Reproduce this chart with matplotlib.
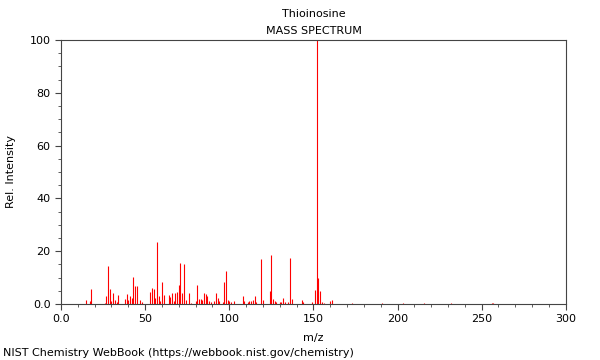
import matplotlib
matplotlib.use("Agg")
import matplotlib.pyplot as plt
from matplotlib.ticker import MultipleLocator, FuncFormatter

# peaks (m/z, relative intensity)
mz = [15, 17, 18, 26, 27, 28, 29, 30, 31, 32, 33, 34, 38, 39, 40, 41, 42,
      43, 44, 45, 47, 48, 53, 54, 55, 56, 57, 58, 59, 60, 61, 64, 65, 66,
      67, 68, 69, 70, 71, 72, 73, 74, 76, 77, 80, 81, 82, 83, 84, 85, 86,
      87, 88, 89, 91, 92, 93, 94, 96, 97, 98, 99, 100, 101, 103, 108, 109,
      111, 112, 113, 114, 115, 116, 119, 120, 124, 125, 126, 127, 128, 130,
      131, 132, 133, 135, 136, 137, 143, 144, 149, 151, 152, 153, 154, 155,
      156, 160, 161, 173, 191, 203, 216, 232, 256, 257]
intensity = [1.5, 1.0, 5.8, 0.5, 3.0, 14.4, 5.5, 1.0, 4.3, 1.4, 0.8, 3.3,
             2.0, 3.8, 1.4, 2.9, 2.3, 10.3, 6.7, 6.9, 1.5, 0.8, 4.7, 6.2,
             5.8, 2.1, 23.3, 3.0, 1.0, 8.2, 3.3, 3.5, 2.5, 4.3, 1.3, 4.2,
             4.7, 7.3, 15.5, 4.0, 15.0, 1.5, 4.3, 0.5, 1.3, 7.3, 2.0, 1.8,
             1.5, 4.3, 3.8, 3.0, 1.0, 0.6, 1.0, 4.0, 2.4, 1.0, 0.6, 8.5,
             12.5, 1.5, 1.0, 0.8, 1.3, 3.0, 1.3, 0.7, 1.0, 1.0, 1.6, 3.0,
             0.6, 17.0, 1.6, 4.8, 18.7, 1.9, 1.3, 0.9, 0.6, 0.6, 2.4, 0.9,
             0.9, 17.5, 2.0, 1.6, 0.9, 0.6, 5.2, 100.0, 10.0, 4.8, 0.6, 0.5,
             1.2, 1.6, 0.3, 0.5, 0.3, 0.2, 0.4, 0.5, 0.3]

compound = "Thioinosine"
dark = "#444444"

fig = plt.figure(figsize=(6, 3.6), dpi=100)
ax = fig.add_axes([0.1017, 0.1556, 0.8413, 0.7334])

ax.vlines(mz, 0, intensity, colors="#ff0000", linewidth=0.8)

ax.set_xlim(0, 300)
ax.set_ylim(0, 100)
ax.xaxis.set_major_locator(MultipleLocator(50))
ax.xaxis.set_minor_locator(MultipleLocator(10))
ax.yaxis.set_major_locator(MultipleLocator(20))
ax.yaxis.set_minor_locator(MultipleLocator(5))
fmt = FuncFormatter(lambda v, pos: "0.0" if v == 0 else f"{v:g}")
ax.xaxis.set_major_formatter(fmt)
ax.yaxis.set_major_formatter(fmt)

for s in ax.spines.values():
    s.set_color(dark)
    s.set_linewidth(0.8)
ax.tick_params(which="major", length=4, width=0.8, color=dark, labelsize=8)
ax.tick_params(which="minor", length=2, width=0.6, color=dark)

ax.set_xlabel("m/z", fontsize=8, labelpad=6)
ax.set_ylabel("Rel. Intensity", fontsize=8, labelpad=10)

fig.text(0.5225, 0.962, compound, ha="center", va="center", fontsize=8)
fig.text(0.5225, 0.915, "MASS SPECTRUM", ha="center", va="center", fontsize=8)
fig.text(0.005, 0.02, "NIST Chemistry WebBook (https://webbook.nist.gov/chemistry)",
         ha="left", va="center", fontsize=8)

fig.savefig("out.png", dpi=100)
